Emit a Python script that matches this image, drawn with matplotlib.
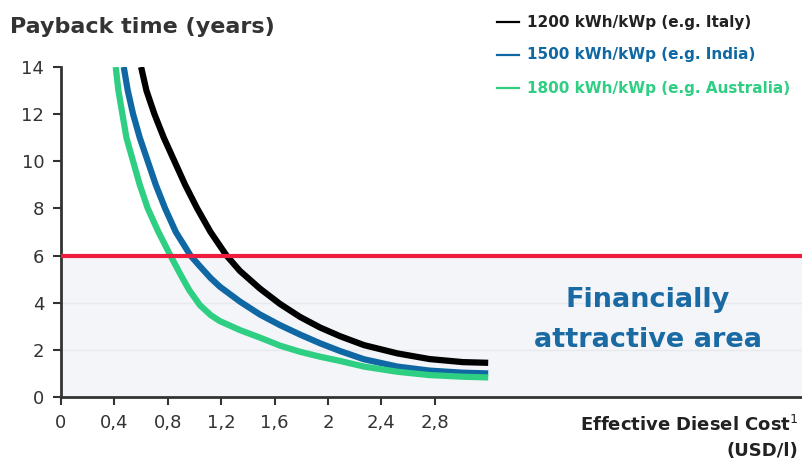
import matplotlib.pyplot as plt
from matplotlib.lines import Line2D

# payback time curves (x = effective diesel cost USD/l, y = years)
x_italy = [0.60, 0.64, 0.70, 0.77, 0.85, 0.93, 1.02, 1.12, 1.24, 1.34, 1.49, 1.64, 1.79,
           1.94, 2.09, 2.27, 2.52, 2.76, 3.01, 3.20]
y_italy = [14, 13, 12, 11, 10, 9, 8, 7, 6, 5.35, 4.6, 3.95, 3.4,
           2.95, 2.58, 2.2, 1.85, 1.61, 1.48, 1.45]
x_india = [0.47, 0.50, 0.54, 0.59, 0.65, 0.71, 0.78, 0.86, 0.97, 1.04, 1.12, 1.19, 1.34,
           1.49, 1.64, 1.79, 1.94, 2.09, 2.27, 2.52, 2.76, 3.01, 3.20]
y_india = [14, 13, 12, 11, 10, 9, 8, 7, 6, 5.55, 5.05, 4.68, 4.05,
           3.5, 3.05, 2.65, 2.28, 1.95, 1.6, 1.29, 1.12, 1.03, 1.0]
x_austr = [0.41, 0.43, 0.46, 0.49, 0.54, 0.59, 0.65, 0.73, 0.82, 0.89, 0.96, 1.04, 1.12,
           1.19, 1.34, 1.49, 1.64, 1.79, 1.94, 2.09, 2.27, 2.52, 2.76, 3.01, 3.20]
y_austr = [14, 13, 12, 11, 10, 9, 8, 7, 6, 5.25, 4.54, 3.9, 3.48,
           3.22, 2.84, 2.52, 2.18, 1.92, 1.71, 1.53, 1.29, 1.07, 0.93, 0.86, 0.83]

labels = ["1200 kWh/kWp (e.g. Italy)", "1500 kWh/kWp (e.g. India)", "1800 kWh/kWp (e.g. Australia)"]
colors = ["#000000", "#0f68a3", "#2fcf83"]
threshold = 6
xticks = [0, 0.4, 0.8, 1.2, 1.6, 2, 2.4, 2.8]
xticklabels = ["0", "0,4", "0,8", "1,2", "1,6", "2", "2,4", "2,8"]

fig = plt.figure(figsize=(8.03, 4.61), dpi=100)
ax = fig.add_axes([61 / 803, 1 - 397 / 461, 1 - 61 / 803, 330 / 461])

ax.axhspan(0, threshold, color="#f3f5f8", zorder=0)
for g in [2, 4]:
    ax.axhline(g, color="#e7e9ed", lw=1, zorder=0.5)

for xs, ys, c in zip([x_italy, x_india, x_austr], [y_italy, y_india, y_austr], colors):
    ax.plot(xs, ys, color=c, lw=4.5, solid_capstyle="butt", solid_joinstyle="round", zorder=3)

ax.axhline(threshold, color="#ee1c3e", lw=3, zorder=4)

ax.set_xlim(0, (803 - 61) / 133.5)
ax.set_ylim(0, 14)
ax.set_xticks(xticks)
ax.set_xticklabels(xticklabels)
ax.set_yticks(range(0, 15, 2))
for s in ["top", "right"]:
    ax.spines[s].set_visible(False)
for s in ["left", "bottom"]:
    ax.spines[s].set_color("#333333")
    ax.spines[s].set_linewidth(2)
ax.tick_params(colors="#333333", labelsize=13, length=6, width=1.5, pad=6)

fig.text(10 / 803, 1 - 27 / 461, "Payback time (years)", fontsize=16, fontweight="bold",
         color="#333333", va="center")

# legend drawn by hand, top right
for i, (lab, c) in enumerate(zip(labels, colors)):
    yy = 1 - (22 + 33 * i) / 461
    fig.lines.append(Line2D([497 / 803, 519 / 803], [yy, yy], color=c, lw=1.6,
                            transform=fig.transFigure))
    fig.text(527 / 803, yy, lab, color=c if i else "#222222", fontsize=11,
             fontweight="bold", va="center")

fig.text(648 / 803, 1 - 300 / 461, "Financially", color="#1a6aa3", fontsize=19.5,
         fontweight="bold", ha="center", va="center")
fig.text(648 / 803, 1 - 340 / 461, "attractive area", color="#1a6aa3", fontsize=19.5,
         fontweight="bold", ha="center", va="center")

fig.text(798 / 803, 1 - 425 / 461, "Effective Diesel Cost$^{1}$", fontsize=13,
         fontweight="bold", color="#222222", ha="right", va="center")
fig.text(798 / 803, 1 - 451 / 461, "(USD/l)", fontsize=13,
         fontweight="bold", color="#222222", ha="right", va="center")

fig.savefig("out.png", dpi=100)
